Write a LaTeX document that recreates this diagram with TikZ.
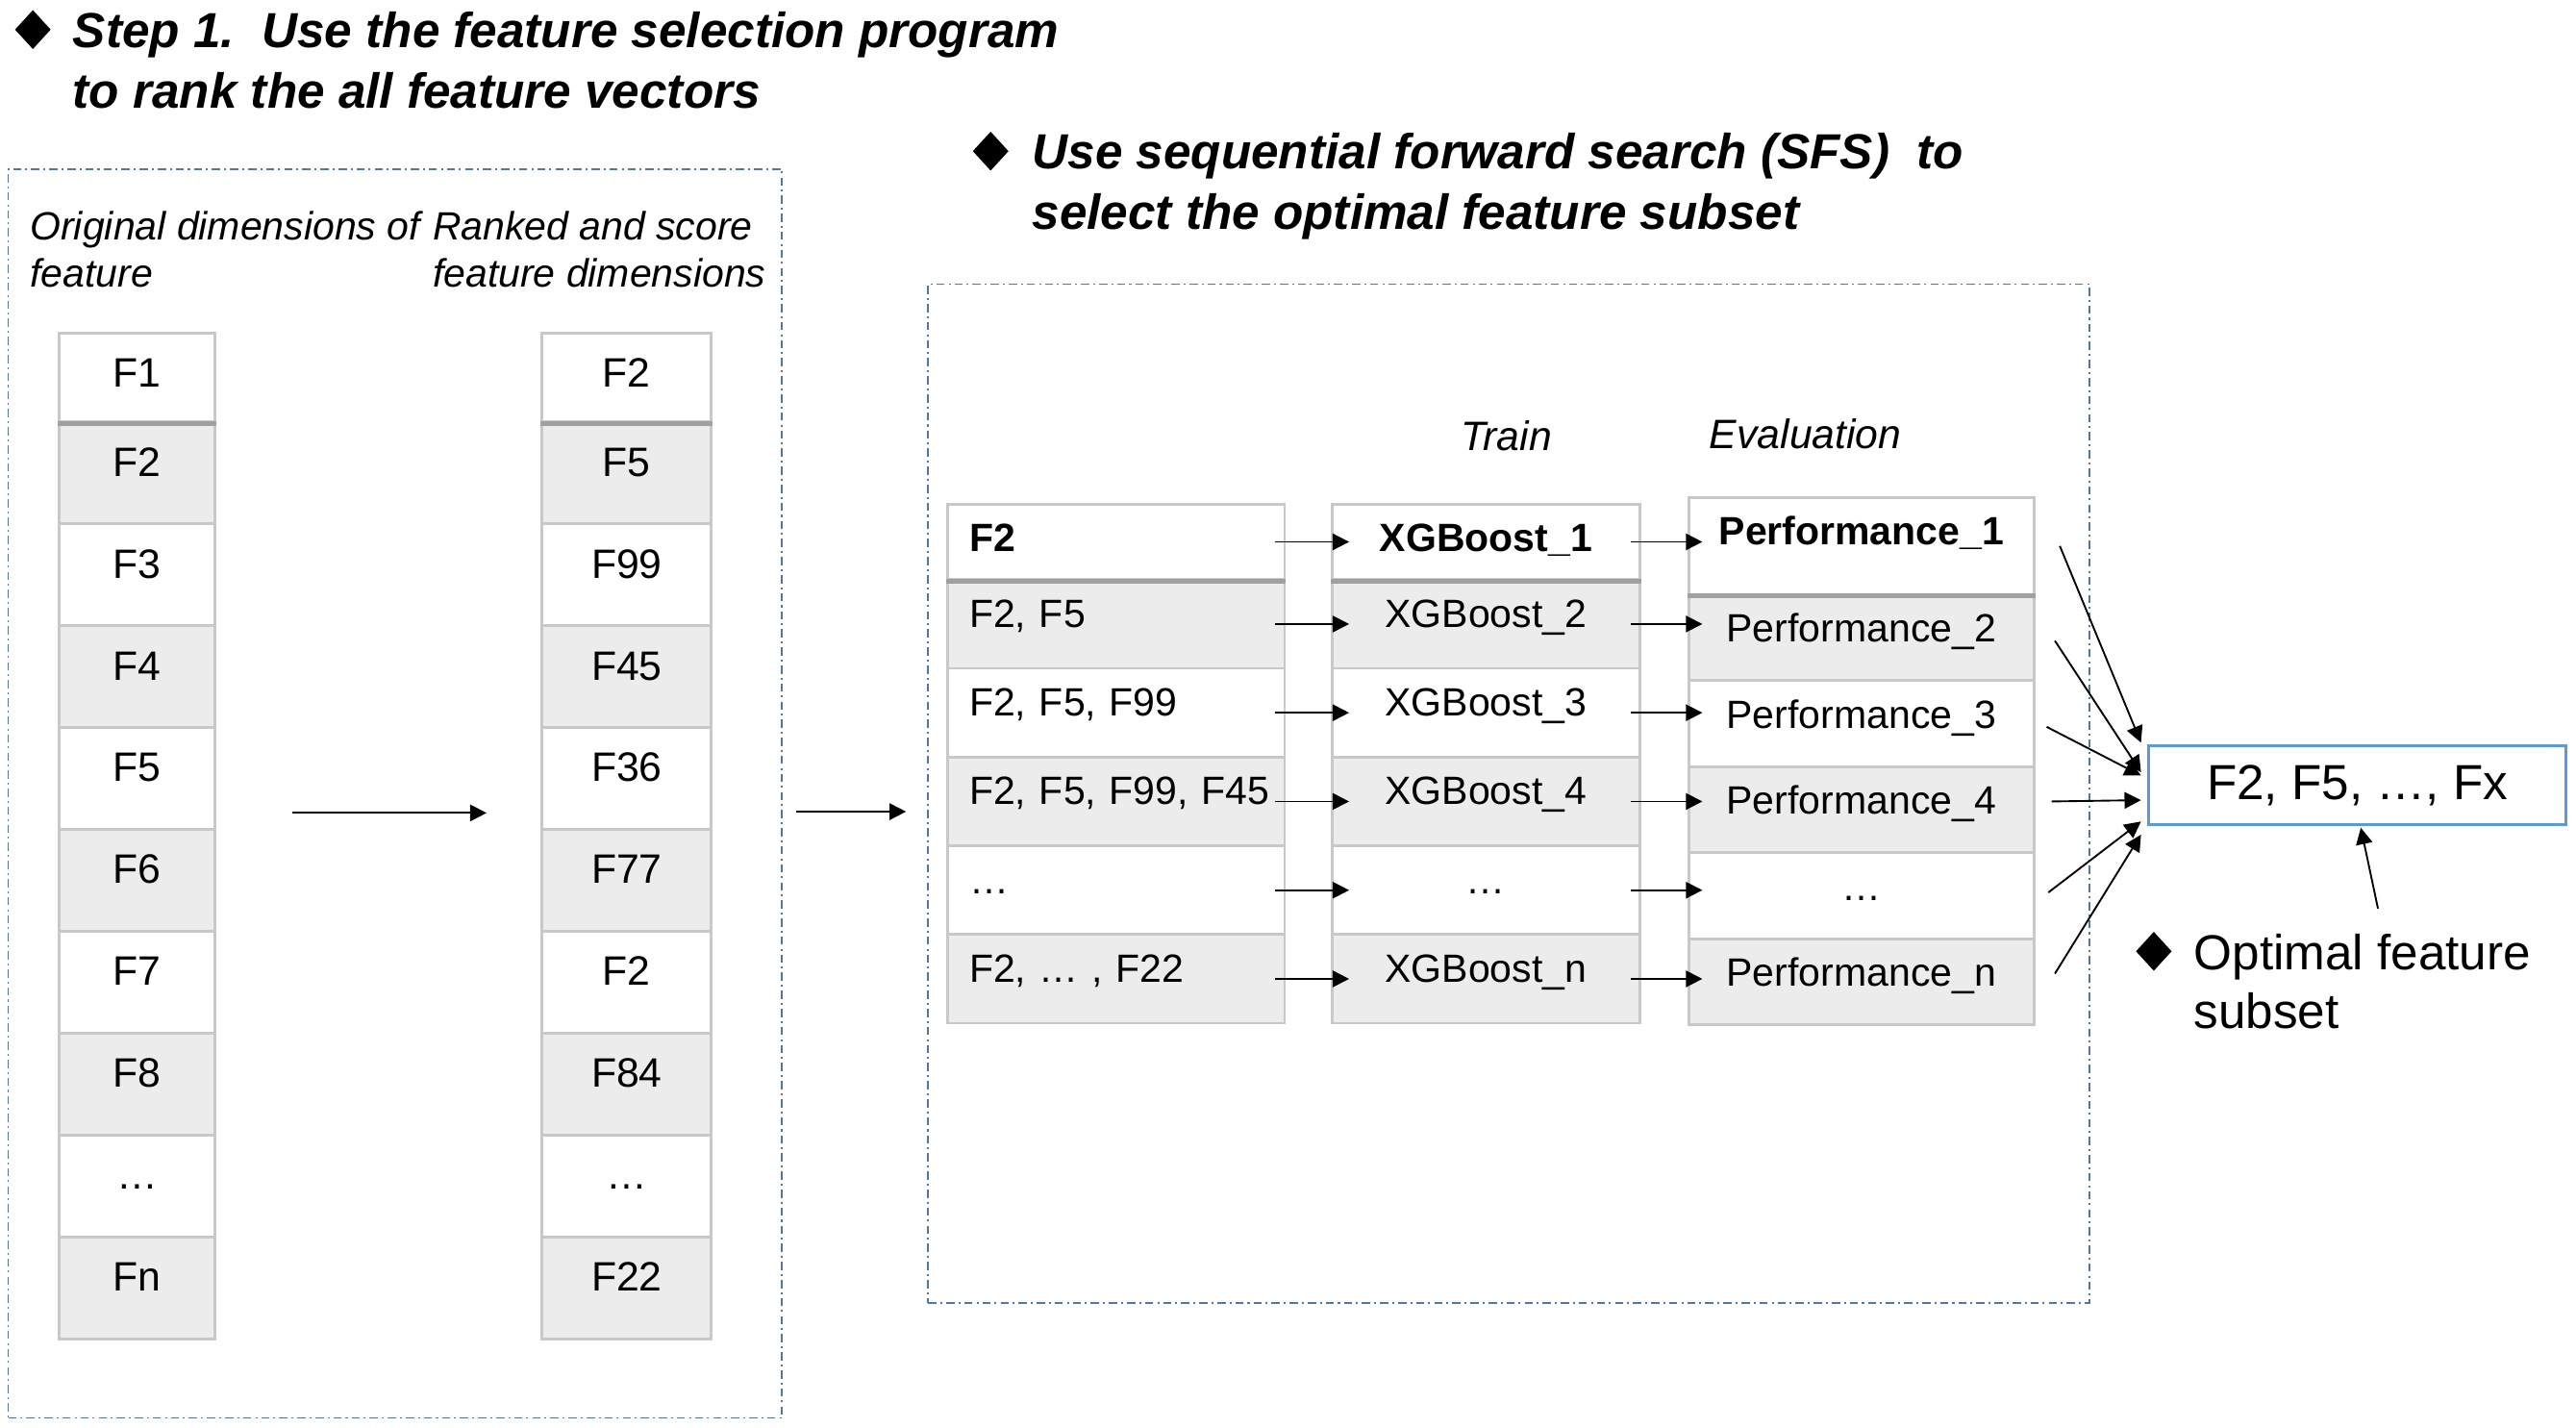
\documentclass[tikz,border=0pt]{standalone}
\usepackage{fontspec}
\setmainfont{Liberation Sans}
\usetikzlibrary{arrows.meta,shapes.geometric}

\definecolor{cellgray}{RGB}{236,236,236}
\definecolor{celledge}{RGB}{200,200,200}
\definecolor{sepgray}{RGB}{160,160,160}
\definecolor{framecol}{RGB}{80,120,165}
\definecolor{resblue}{RGB}{91,155,213}

\tikzstyle{dashframe}=[draw=framecol, line width=0.5pt, dash pattern=on 2.5pt off 1.2pt on 0.6pt off 1.2pt, inner sep=0pt]
\tikzstyle{lcell}=[draw=celledge, line width=0.8pt, inner sep=0pt, anchor=north, text height=16.5pt, text depth=14.5pt, font=\fontsize{12.5pt}{15pt}\selectfont]
\tikzstyle{scell}=[draw=celledge, line width=0.8pt, inner sep=0pt, anchor=north, text height=14.5pt, text depth=12.5pt, font=\fontsize{12pt}{14.5pt}\selectfont]
\tikzstyle{setcell}=[text width=89.5pt, inner xsep=6.5pt, align=left]
\tikzstyle{sepline}=[draw=sepgray, line width=1.5pt]
\tikzstyle{arr}=[-{Triangle[length=5pt,width=5pt]}, line width=0.55pt]
\tikzstyle{bullet}=[diamond, fill=black, inner sep=0pt, minimum width=11pt, minimum height=12pt]
\tikzstyle{headtext}=[anchor=north west, inner sep=0pt, align=left, font=\fontsize{15pt}{18.5pt}\selectfont\bfseries\itshape]
\tikzstyle{coltext}=[anchor=north west, inner sep=0pt, align=left, font=\fontsize{12pt}{14.5pt}\selectfont\itshape]

\begin{document}
\begin{tikzpicture}[x=0.5pt, y=-0.5pt]
	\useasboundingbox (0,0) rectangle (1568,869.1);
	%titles
	\node[bullet] (stepdia) at (20,18) {};
	\node[headtext] (steptitle) at (44,6.7) {Step 1.\ \ Use the feature selection program\\to rank the all feature vectors};
	\node[bullet] (sfsdia) at (603,92) {};
	\node[headtext] (sfstitle) at (628,80.7) {Use sequential forward search (SFS)\ \ to\\select the optimal feature subset};
	%frames
	\node[dashframe, minimum width=235.5pt, minimum height=380pt] (lbox) at (240.5,483) {};
	\node[dashframe, minimum width=353.5pt, minimum height=310pt] (rbox) at (918.5,483) {};
	%ranking
	\node[coltext] (orighead) at (18,128) {Original dimensions of\\feature};
	\node[coltext] (rankhead) at (263,128) {Ranked and score\\feature dimensions};
	\node[lcell, minimum width=47.5pt, text depth=10.5pt] (l1) at (83.5,202) {F1};
	\node[lcell, minimum width=51.5pt, text depth=10.5pt] (r1) at (381.5,202) {F2};
	\foreach \i/\a/\b/\f in {
		2/F2/F5/cellgray,
		3/F3/F99/white,
		4/F4/F45/cellgray,
		5/F5/F36/white,
		6/F6/F77/cellgray,
		7/F7/F2/white,
		8/F8/F84/cellgray,
		9/…/…/white,
		10/Fn/F22/cellgray}
	{
		\node[lcell, minimum width=47.5pt, fill=\f] (l\i) at (83.5,{256+(\i-2)*62}) {\a};
		\node[lcell, minimum width=51.5pt, fill=\f] (r\i) at (381.5,{256+(\i-2)*62}) {\b};
	}
	\draw[arr] ([xshift=23pt,yshift=-10.5pt]l5.east) -- ([xshift=-16.5pt,yshift=-10.5pt]r5.west);
	\draw[arr] ([xshift=4pt,yshift=-5.5pt]lbox.east) -- ([xshift=-6.5pt,yshift=-5.5pt]rbox.west);
	%sfs table
	\node[coltext, anchor=center, font=\fontsize{12.5pt}{15pt}\selectfont\itshape] (train) at (917,265) {Train};
	\node[coltext, anchor=center, font=\fontsize{12.5pt}{15pt}\selectfont\itshape] (evalhead) at (1099,264) {Evaluation};
	\node[scell, setcell, text depth=8.5pt] (s1) at (679.5,306) {\textbf{F2}};
	\node[scell, minimum width=93.5pt, text depth=8.5pt] (m1) at (904.5,306) {\textbf{XGBoost\_1}};
	\node[scell, minimum width=105pt, text depth=15pt] (e1) at (1133,302) {\textbf{Performance\_1}};
	\foreach \i/\a/\b/\c/\f in {
		2/{F2, F5}/XGBoost\_2/Performance\_2/cellgray,
		3/{F2, F5, F99}/XGBoost\_3/Performance\_3/white,
		4/{\mbox{F2, F5, F99, F45}}/XGBoost\_4/Performance\_4/cellgray,
		5/…/…/…/white,
		6/{F2, … , F22}/XGBoost\_n/Performance\_n/cellgray}
	{
		\node[scell, setcell, fill=\f] (s\i) at (679.5,{352+(\i-2)*54}) {\a};
		\node[scell, minimum width=93.5pt, fill=\f] (m\i) at (904.5,{352+(\i-2)*54}) {\b};
		\node[scell, minimum width=105pt, text depth=11.7pt, fill=\f] (e\i) at (1133,{361+(\i-2)*52.4}) {\c};
	}
	\foreach \n in {l1,r1,s1,m1,e1}
	\draw[sepline] (\n.south west) -- (\n.south east);
	\foreach \i in {1,...,6}
	{
		\draw[arr, shorten <=-3.5pt, shorten >=-5.5pt] (s\i.east) -- (m\i.west);
		\draw[arr, shorten <=-3pt, shorten >=-4.5pt] (m\i.east) -- (m\i.east -| e\i.west);
	}
	%result
	\node[draw=resblue, line width=0.8pt, minimum width=127pt, minimum height=24pt, inner sep=0pt, font=\fontsize{15pt}{18pt}\selectfont] (res) at (1435,478) {F2, F5, …, Fx};
	\foreach \i/\dx/\dy/\ey in {1/7.5pt/0pt/13pt, 2/6pt/-1pt/4pt, 3/3.5pt/-1pt/3pt, 4/5pt/2.5pt/-4.5pt, 5/4pt/1pt/-11pt, 6/6pt/2.5pt/-15pt}
	\draw[arr] ([xshift=\dx,yshift=\dy]e\i.east) -- ([xshift=-2pt,yshift=\ey]res.west);
	\node[bullet] (optdia) at (1311,579) {};
	\node[anchor=north west, inner sep=0pt, align=left, font=\fontsize{15pt}{18pt}\selectfont] (opt) at (1335,568) {Optimal feature\\subset};
	\draw[arr] ([xshift=4.75pt,yshift=7.5pt]opt.north) -- ([xshift=1pt,yshift=-0.5pt]res.south);
\end{tikzpicture}
\end{document}
